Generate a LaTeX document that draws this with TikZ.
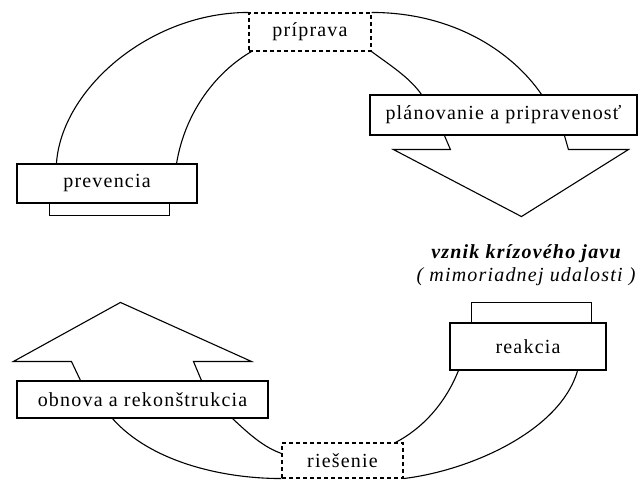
\documentclass[tikz,border=0pt]{standalone}
\usepackage{fontspec}
\setmainfont{Liberation Serif}[LetterSpace=6]
\tikzset{
  stage/.style={draw,fill=white,inner sep=0pt,font=\fontsize{20}{23}\selectfont},
  phase/.style={stage,dash pattern=on 4pt off 3pt},
}
\begin{document}
\begin{tikzpicture}[x=1pt,y=-1pt,line width=1.1pt]
  \useasboundingbox (0,0) rectangle (640,481);
  % stages of the crisis cycle
  \node[phase,minimum width=122pt,minimum height=38pt] (prip) at (310,32) {príprava};
  \node[stage,minimum width=180pt,minimum height=39pt] (prev) at (107,183.5) {prevencia};
  \node[stage,minimum width=267pt,minimum height=40pt] (plan) at (503.5,115) {plánovanie a pripravenosť};
  \node[stage,minimum width=156pt,minimum height=47pt] (reak) at (528,346.5) {reakcia};
  \node[phase,minimum width=121pt,minimum height=35pt] (ries) at (342.5,460.5) {riešenie};
  \node[stage,minimum width=251pt,minimum height=37pt] (obn) at (142.5,399.5) {obnova a rekonštrukcia};
  % crisis event
  \node[font=\fontsize{20}{23}\selectfont\itshape,align=center] (vznik) at (526,265)
    {\textbf{vznik krízového javu}\\( mimoriadnej udalosti )};
  % upper band
  \draw ([xshift=40pt]prev.north west) .. controls +(5,-74) and +(-99,0) .. (prip.north west);
  \draw ([xshift=-21pt]prev.north east) .. controls +(9,-54) and +(-33,19) .. ([xshift=3pt]prip.south west);
  \draw (prip.north east) .. controls +(79,0) and +(-31,-45) .. ([xshift=-96pt]plan.north east);
  \draw (prip.south east) .. controls +(19,14) and +(-12,-17) .. ([xshift=52pt]plan.north west);
  % lower band
  \draw ([xshift=-29pt]reak.south east) .. controls +(-17,60) and +(67,-8) .. (ries.south east);
  \draw ([xshift=9pt]reak.south west) .. controls +(-14,35) and +(25,-13) .. ([xshift=-8pt]ries.north east);
  \draw ([xshift=96pt]obn.south west) .. controls +(37,42) and +(-62,0) .. (ries.south west);
  \draw ([xshift=-36pt]obn.south east) .. controls +(18,17) and +(-17,-6) .. ([yshift=-11pt]ries.north west);
  % arrow heads
  \draw ([xshift=75pt]plan.south west) -- ++(6,14) -- ++(-57,0) -- ++(128,67)
    -- ++(107,-67) -- ++(-60,0) -- ++(-4,-14);
  \draw ([xshift=64pt]obn.north west) -- ++(-9,-19) -- ++(-58,0) -- ++(107,-59)
    -- ++(131,59) -- ++(-58,0) -- ++(8,19);
  % band ends
  \draw ([xshift=33pt]prev.south west) -- ++(0,12) -- ++(120,0) -- ++(0,-12);
  \draw ([xshift=22pt]reak.north west) -- ++(0,-20) -- ++(120,0) -- ++(0,20);
\end{tikzpicture}
\end{document}
